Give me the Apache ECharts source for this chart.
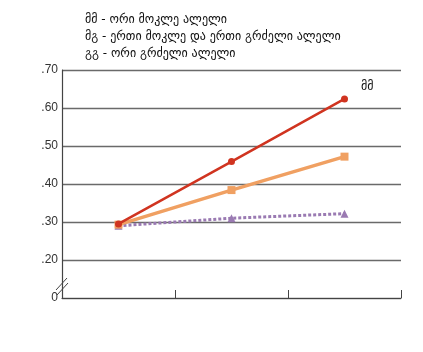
<!DOCTYPE html>
<html>
<head>
<meta charset="utf-8">
<script src="https://cdn.jsdelivr.net/npm/echarts@6/dist/echarts.min.js"></script>
<style>
    html, body {margin: 0; padding: 0; background: #fff;}
    #chart {width: 423px; height: 352px;}
</style>
</head>
<body>
<div id="chart"></div>
<script>
// categories (age groups, labels cut off in the source)
const categories = ['1', '2', '3'];

// series values
const mmValues = [0.295, 0.459, 0.624];
const mgValues = [0.293, 0.384, 0.472];
const ggValues = [0.290, 0.310, 0.322];

const titleLines = [
    'მმ - ორი მოკლე ალელი',
    'მგ - ერთი მოკლე და ერთი გრძელი ალელი',
    'გგ - ორი გრძელი ალელი'
];
const endLabel = 'მმ';

let myChart = echarts.init(document.getElementById('chart'));

// put the text label on the last point of the red line only
let mmData = mmValues.map(function (v, i) {
    if (i === mmValues.length - 1) {
        return {
            value: v,
            label: {
                show: true,
                formatter: endLabel,
                position: 'right',
                offset: [8, -12],
                color: '#111',
                fontSize: 12,
                fontFamily: 'DejaVu Sans'
            }
        };
    }
    return v;
});

let option = {
    backgroundColor: '#fff',
    animation: false,
    title: {
        text: titleLines.join('\n'),
        left: 80,
        top: 6,
        textStyle: {
            color: '#111',
            fontSize: 12,
            fontWeight: 'normal',
            fontFamily: 'DejaVu Sans',
            lineHeight: 17
        }
    },
    grid: {
        left: 62,
        right: 22,
        top: 70,
        bottom: 54
    },
    xAxis: {
        type: 'category',
        data: categories,
        boundaryGap: true,
        axisLine: {lineStyle: {color: '#444', width: 1.2}},
        axisTick: {show: true, inside: true, length: 8, lineStyle: {color: '#444'}},
        axisLabel: {show: false},
        splitLine: {show: false}
    },
    yAxis: {
        type: 'value',
        min: 0.1,
        max: 0.7,
        interval: 0.1,
        axisLine: {show: true, lineStyle: {color: '#444', width: 1.2}},
        axisTick: {show: false},
        axisLabel: {
            color: '#333',
            fontSize: 12,
            fontFamily: 'Liberation Sans',
            margin: 4,
            formatter: function (v) {
                if (v < 0.15) {
                    return '0';
                }
                return '.' + Math.round(v * 100);
            }
        },
        splitLine: {lineStyle: {color: '#6a6a6a', width: 1.3}}
    },
    series: [
        {
            name: 'გგ',
            type: 'line',
            data: ggValues,
            symbol: 'triangle',
            symbolSize: 8,
            itemStyle: {color: '#9a7ab2'},
            lineStyle: {color: '#9a7ab2', width: 3, type: [3, 2]},
            z: 2
        },
        {
            name: 'მგ',
            type: 'line',
            data: mgValues,
            symbol: 'rect',
            symbolSize: 8,
            itemStyle: {color: '#f0a062'},
            lineStyle: {color: '#f0a062', width: 3.5},
            z: 3
        },
        {
            name: 'მმ',
            type: 'line',
            data: mmData,
            symbol: 'circle',
            symbolSize: 7,
            itemStyle: {color: '#d03420'},
            lineStyle: {color: '#d03420', width: 2.5},
            z: 4
        }
    ],
    // axis break marks near the bottom of the y axis
    graphic: [
        {
            type: 'line',
            shape: {x1: 56, y1: 290, x2: 67, y2: 278},
            style: {stroke: '#444', lineWidth: 1}
        },
        {
            type: 'line',
            shape: {x1: 57, y1: 295, x2: 68, y2: 283},
            style: {stroke: '#444', lineWidth: 1}
        }
    ]
};

myChart.setOption(option);
</script>
</body>
</html>
